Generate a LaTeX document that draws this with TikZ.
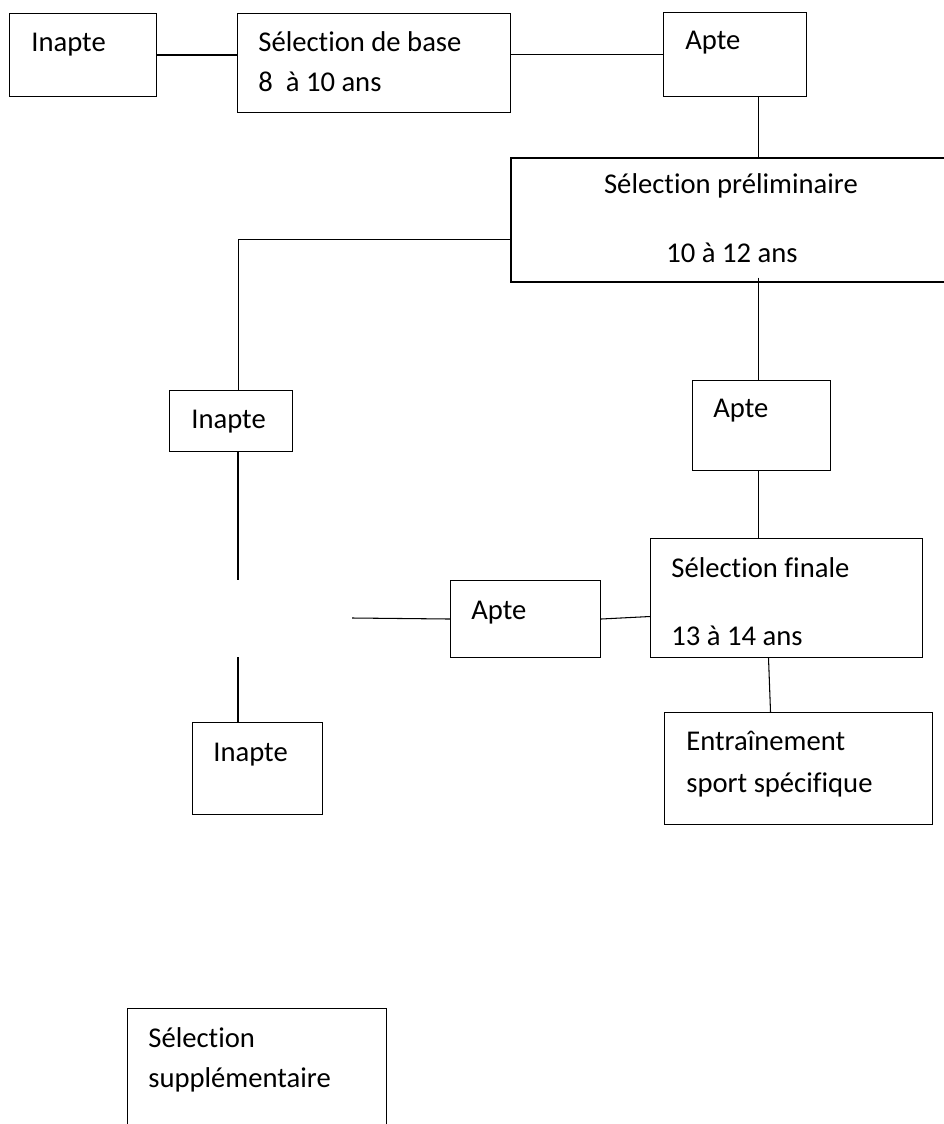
\documentclass[tikz,border=0pt]{standalone}
\usepackage{fontspec}
\setmainfont{Carlito}[Ligatures=NoCommon]

\begin{document}
\begin{tikzpicture}[x=0.02cm, y=-0.02cm,
        boite/.style={draw, rectangle, anchor=north west, inner sep=0pt, line width=0.6pt},
        texte/.style={anchor=base west, inner sep=0pt, font=\fontsize{16.3}{19}\selectfont},
        trait/.style={line width=0.6pt}]
    \useasboundingbox (0,0) rectangle (943,1124);

    % boites
    \node[boite, minimum width=2.94cm, minimum height=1.66cm] (inapteA) at (9, 13) {};
    \node[boite, minimum width=5.46cm, minimum height=1.98cm] (selBase) at (237, 13) {};
    \node[boite, minimum width=2.86cm, minimum height=1.68cm] (apteA) at (663, 12) {};
    \node[boite, minimum width=8.72cm, minimum height=2.48cm, line width=1pt] (selPrelim) at (510, 157) {};
    \node[boite, minimum width=2.46cm, minimum height=1.22cm] (inapteB) at (169, 390) {};
    \node[boite, minimum width=2.76cm, minimum height=1.80cm] (apteB) at (692, 380) {};
    \node[boite, minimum width=5.44cm, minimum height=2.38cm] (selFinale) at (650, 538) {};
    \node[boite, minimum width=3.00cm, minimum height=1.54cm] (apteC) at (450, 580) {};
    \node[boite, minimum width=2.60cm, minimum height=1.84cm] (inapteC) at (192, 722) {};
    \node[boite, minimum width=5.36cm, minimum height=2.24cm] (entrain) at (664, 712) {};
    \node[boite, minimum width=5.18cm, minimum height=2.44cm] (selSupp) at (127, 1008) {};

    % textes
    \node[texte] (tInapteA) at (31, 52) {Inapte};
    \node[texte] (tSelBase) at (258, 52) {Sélection de base};
    \node[texte] (tAgeBase) at (258, 92) {8\ \ à 10 ans};
    \node[texte] (tApteA) at (685, 50) {Apte};
    \node[texte, anchor=base] (tSelPrelim) at (731, 194) {Sélection préliminaire};
    \node[texte, anchor=base] (tAgePrelim) at (732, 263) {10 à 12 ans};
    \node[texte] (tInapteB) at (191, 429) {Inapte};
    \node[texte] (tApteB) at (713, 418) {Apte};
    \node[texte] (tSelFinale) at (671, 577) {Sélection finale};
    \node[texte] (tAgeFinale) at (671, 645) {13 à 14 ans};
    \node[texte] (tApteC) at (471, 619) {Apte};
    \node[texte] (tInapteC) at (213, 761) {Inapte};
    \node[texte] (tEntrain) at (686, 750) {Entraînement};
    \node[texte] (tSport) at (686, 792) {sport spécifique};
    \node[texte] (tSelSupp) at (148, 1047) {Sélection};
    \node[texte] (tSupp) at (148, 1087) {supplémentaire};

    % points libres
    \coordinate (coupureH) at (238, 580);
    \coordinate (coupureB) at (238, 657);
    \coordinate (amorce) at (352, 618);

    % liaisons
    \draw[trait] (inapteA.east) -- (inapteA.east -| selBase.west);
    \draw[trait] (selBase.east |- apteA.west) -- (apteA.west);
    \draw[trait] ([xshift=0.47cm]apteA.south) -- ([xshift=0.47cm]apteA.south |- selPrelim.north);
    \draw[trait] ([yshift=-0.4cm]selPrelim.west) -| ([xshift=0.15cm]inapteB.north);
    \draw[trait] ([xshift=-0.06cm, yshift=0.1cm]apteB.north |- selPrelim.south) -- ([xshift=-0.06cm]apteB.north);
    \draw[trait] ([xshift=-0.06cm]apteB.south) -- ([xshift=-0.06cm]apteB.south |- selFinale.north);
    \draw[trait] (inapteB.south -| coupureH) -- (coupureH);
    \draw[trait] (coupureB) -- (coupureB |- inapteC.north);
    \draw[trait] (amorce) -- (apteC.west);
    \draw[trait] (apteC.east) -- ([yshift=-0.37cm]selFinale.west);
    \draw[trait] ([xshift=-0.36cm]selFinale.south) -- ([xshift=-0.56cm]entrain.north);
\end{tikzpicture}
\end{document}
